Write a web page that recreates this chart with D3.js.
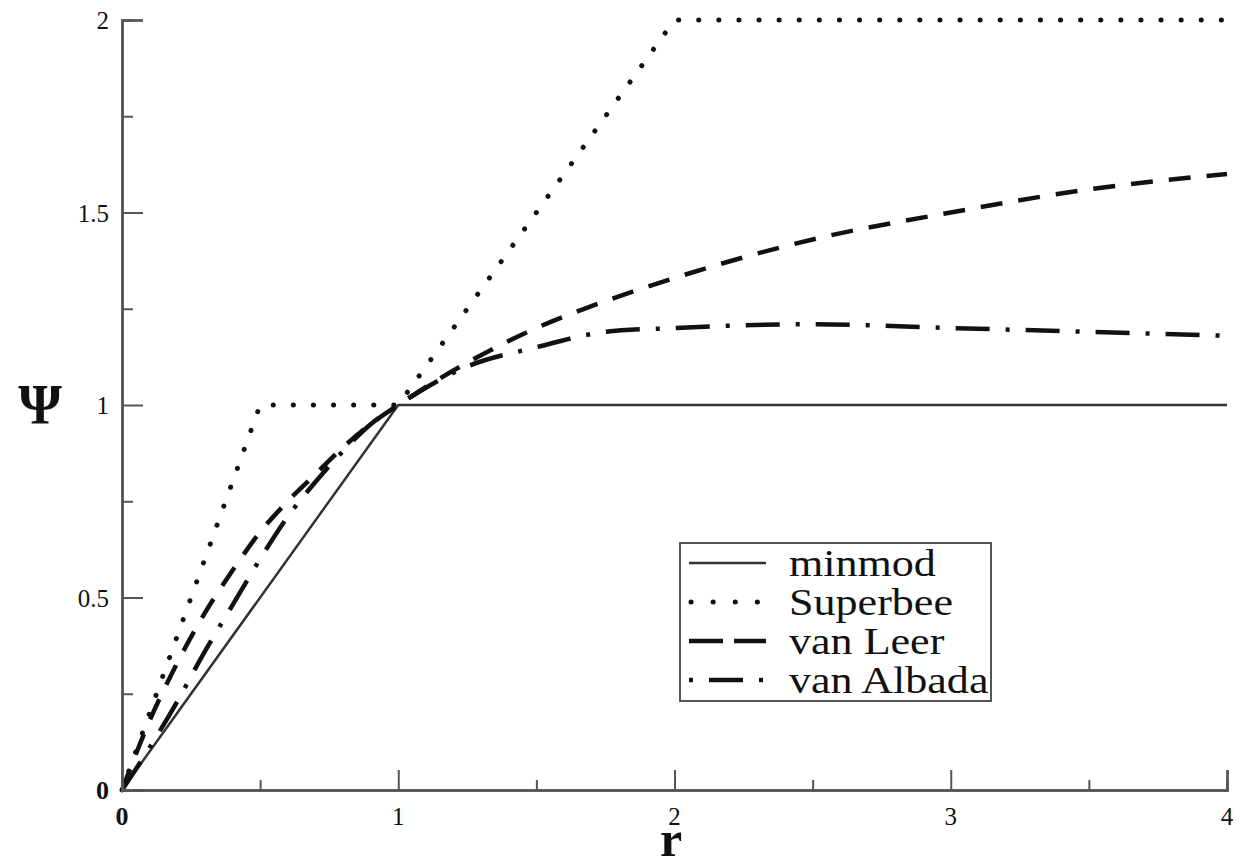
<!DOCTYPE html>
<html>
<head>
<meta charset="utf-8">
<script src="https://cdn.jsdelivr.net/npm/d3@7"></script>
<style>
  body { margin: 0; background: #fff; }
  text { font-family: "Liberation Serif", "DejaVu Serif", serif; fill: #111; }
</style>
</head>
<body>
<script>
var width = 1240,
    height = 867,
    x0 = 122, x1 = 1227,
    y0 = 790, y1 = 20

// values
var minmodR = [0, 1, 4],
    minmodPsi = [0, 1, 1]
var superbeeR = [0, 0.5, 1, 2, 4],
    superbeePsi = [0, 1, 1, 2, 2]
var vanLeerR = [0, 0.1, 0.2, 0.3, 0.4, 0.5, 0.6, 0.7, 0.8, 0.9, 1, 1.25, 1.5, 1.75, 2, 2.5, 3, 3.5, 4],
    vanLeerPsi = [0, 0.18, 0.33, 0.46, 0.57, 0.67, 0.75, 0.82, 0.89, 0.95, 1, 1.11, 1.2, 1.27, 1.33, 1.43, 1.5, 1.56, 1.6]
var vanAlbadaR = [0, 0.1, 0.2, 0.3, 0.4, 0.5, 0.6, 0.7, 0.8, 0.9, 1, 1.25, 1.5, 1.75, 2, 2.5, 3, 3.5, 4],
    vanAlbadaPsi = [0, 0.11, 0.23, 0.36, 0.48, 0.6, 0.71, 0.8, 0.88, 0.95, 1, 1.1, 1.15, 1.19, 1.2, 1.21, 1.2, 1.19, 1.18]

var xMajor = [0, 1, 2, 3, 4],
    xMinor = [0.5, 1.5, 2.5, 3.5],
    yMajor = [0, 0.5, 1, 1.5, 2],
    yMinor = [0.25, 0.75, 1.25, 1.75],
    xTickLabels = ["0", "1", "2", "3", "4"],
    yTickLabels = ["0", "0.5", "1", "1.5", "2"]

var seriesNames = ["minmod", "Superbee", "van Leer", "van Albada"]

var x = d3.scaleLinear().domain([0, 4]).range([x0, x1])
var y = d3.scaleLinear().domain([0, 2]).range([y0, y1])

var styles = [
  { width: 2.5, dash: null, cap: "butt", color: "#333" },
  { width: 5, dash: "0.1 20", cap: "round", color: "#111" },
  { width: 4.5, dash: "22 16", cap: "butt", color: "#111" },
  { width: 4.5, dash: "34 16 4 16", cap: "butt", color: "#111" }
]
var legendDash = [null, "0.1 22", "34 11 34 100", "4 16 34 16 4 100"]

var series = [
  { name: seriesNames[0], r: minmodR, psi: minmodPsi, curve: d3.curveLinear },
  { name: seriesNames[1], r: superbeeR, psi: superbeePsi, curve: d3.curveLinear },
  { name: seriesNames[2], r: vanLeerR, psi: vanLeerPsi, curve: d3.curveMonotoneX },
  { name: seriesNames[3], r: vanAlbadaR, psi: vanAlbadaPsi, curve: d3.curveMonotoneX }
]

var svg = d3.select("body").append("svg")
    .attr("width", width)
    .attr("height", height)

svg.append("rect").attr("width", width).attr("height", height).attr("fill", "#fff")

// curves
series.forEach(function(s, i) {
  var pts = s.r.map(function(r, j) { return [r, s.psi[j]] })
  var line = d3.line()
      .x(function(d) { return x(d[0]) })
      .y(function(d) { return y(d[1]) })
      .curve(s.curve)
  svg.append("path")
      .datum(pts)
      .attr("d", line)
      .attr("fill", "none")
      .attr("stroke", styles[i].color)
      .attr("stroke-width", styles[i].width)
      .attr("stroke-dasharray", styles[i].dash)
      .attr("stroke-linecap", styles[i].cap)
      .attr("stroke-linejoin", "round")
})

// axes, ticks pointing inward
var axisColor = "#555"
var xAxis = d3.axisTop(x).tickValues(xMajor).tickSize(20).tickFormat("")
var xAxisMinor = d3.axisTop(x).tickValues(xMinor).tickSize(10).tickFormat("")
var yAxis = d3.axisRight(y).tickValues(yMajor).tickSize(21).tickFormat("")
var yAxisMinor = d3.axisRight(y).tickValues(yMinor).tickSize(11).tickFormat("")

svg.append("g").attr("transform", "translate(0," + y0 + ")").call(xAxis)
svg.append("g").attr("transform", "translate(0," + y0 + ")").call(xAxisMinor)
svg.append("g").attr("transform", "translate(" + x0 + ",0)").call(yAxis)
svg.append("g").attr("transform", "translate(" + x0 + ",0)").call(yAxisMinor)

svg.selectAll(".domain")
    .attr("stroke", axisColor)
    .attr("stroke-width", 2.5)
svg.selectAll(".tick line")
    .attr("stroke", axisColor)
    .attr("stroke-width", 2)

// tick labels
svg.selectAll(".xLabel")
    .data(xMajor)
    .enter().append("text")
    .attr("class", "xLabel")
    .attr("x", function(d) { return x(d) })
    .attr("y", 825)
    .attr("text-anchor", "middle")
    .style("font-size", function(d) { return d == 0 ? "26px" : "25px" })
    .style("font-weight", function(d) { return d == 0 ? "bold" : "normal" })
    .text(function(d, i) { return xTickLabels[i] })

svg.selectAll(".yLabel")
    .data(yMajor)
    .enter().append("text")
    .attr("class", "yLabel")
    .attr("x", 109)
    .attr("y", function(d) { return y(d) + 9 })
    .attr("text-anchor", "end")
    .style("font-size", function(d) { return d == 0 ? "26px" : "25px" })
    .style("font-weight", function(d) { return d == 0 ? "bold" : "normal" })
    .text(function(d, i) { return yTickLabels[i] })

// axis titles
svg.append("text")
    .attr("x", 40)
    .attr("y", 424)
    .attr("text-anchor", "middle")
    .style("font-size", "56px")
    .style("font-weight", "bold")
    .text("Ψ")

svg.append("text")
    .attr("x", 671)
    .attr("y", 856)
    .attr("text-anchor", "middle")
    .style("font-size", "50px")
    .style("font-weight", "bold")
    .text("r")

// legend
var legend = svg.append("g").attr("class", "legend")
legend.append("rect")
    .attr("x", 680)
    .attr("y", 543)
    .attr("width", 311)
    .attr("height", 158)
    .attr("fill", "#fff")
    .attr("stroke", axisColor)
    .attr("stroke-width", 2)

var rows = legend.selectAll(".row")
    .data(seriesNames)
    .enter().append("g")
    .attr("class", "row")
    .attr("transform", function(d, i) { return "translate(0," + (563 + i * 39) + ")" })

rows.append("line")
    .attr("x1", function(d, i) { return i == 1 ? 691 : 689 })
    .attr("x2", function(d, i) { return i == 3 ? 763 : 766 })
    .attr("y1", 0)
    .attr("y2", 0)
    .attr("stroke", function(d, i) { return styles[i].color })
    .attr("stroke-width", function(d, i) { return styles[i].width })
    .attr("stroke-dasharray", function(d, i) { return legendDash[i] })
    .attr("stroke-linecap", function(d, i) { return styles[i].cap })

rows.append("text")
    .attr("x", 789)
    .attr("y", 13)
    .style("font-size", "38px")
    .attr("transform", "translate(789,0) scale(1.16,1) translate(-789,0)")
    .text(function(d) { return d })
</script>
</body>
</html>
